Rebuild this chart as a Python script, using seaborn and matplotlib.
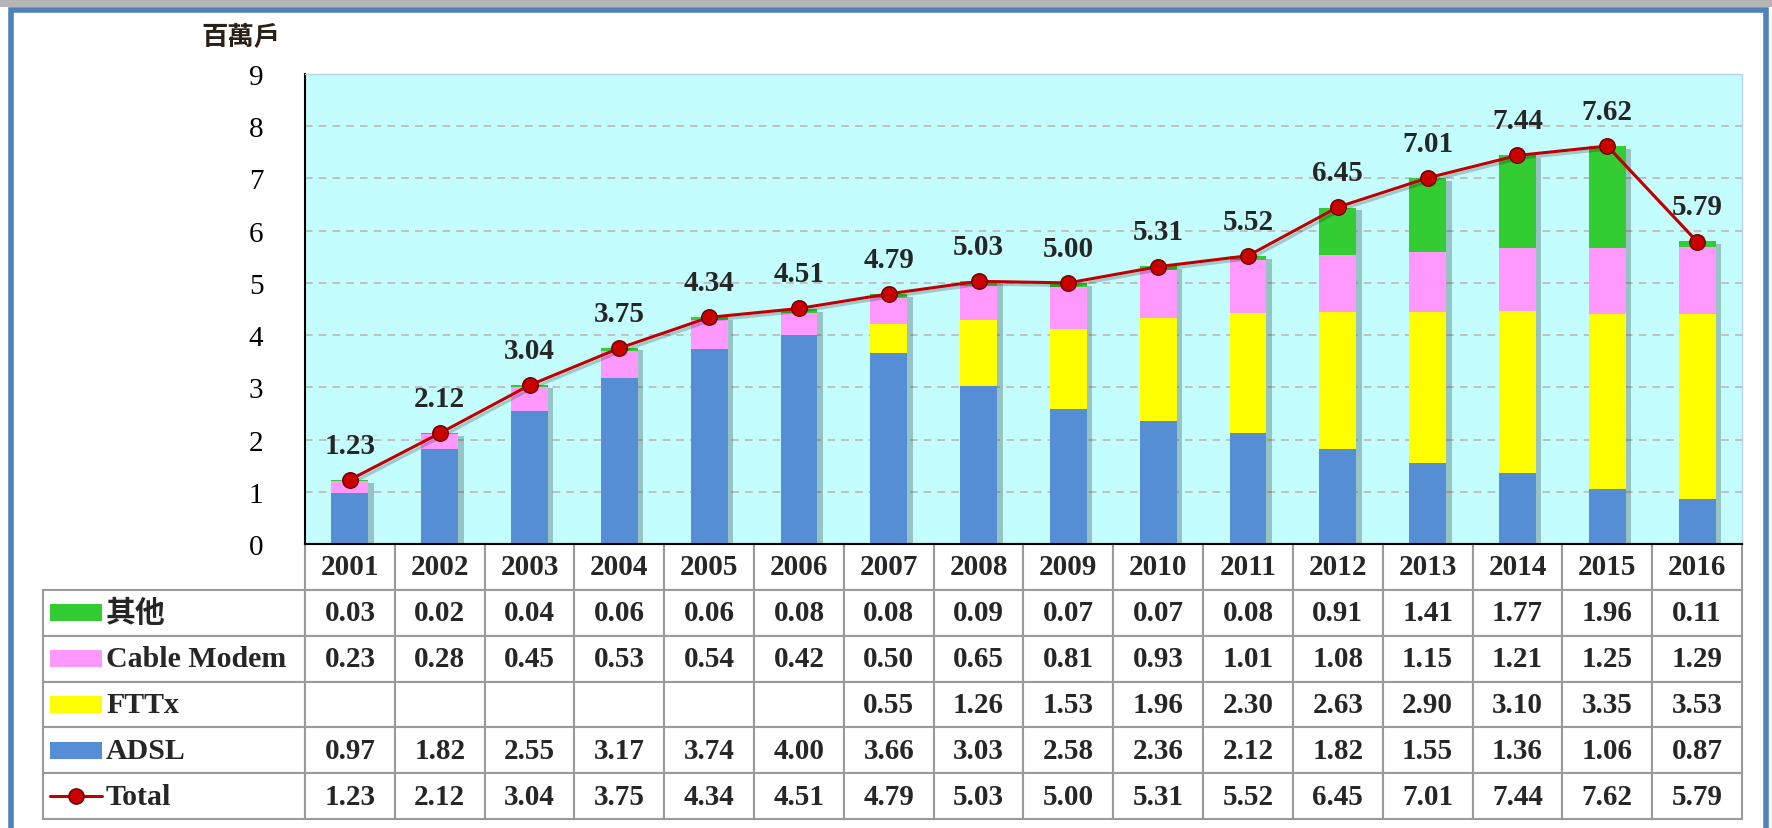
import numpy as np
import pandas as pd
import seaborn as sns
import matplotlib.pyplot as plt
import matplotlib.patheffects as pe
from matplotlib.patches import Rectangle
from matplotlib.lines import Line2D

# data (millions of households)
years = ['2001', '2002', '2003', '2004', '2005', '2006', '2007', '2008',
         '2009', '2010', '2011', '2012', '2013', '2014', '2015', '2016']
other = [0.03, 0.02, 0.04, 0.06, 0.06, 0.08, 0.08, 0.09, 0.07, 0.07, 0.08, 0.91, 1.41, 1.77, 1.96, 0.11]
cable = [0.23, 0.28, 0.45, 0.53, 0.54, 0.42, 0.50, 0.65, 0.81, 0.93, 1.01, 1.08, 1.15, 1.21, 1.25, 1.29]
fttx = [None, None, None, None, None, None, 0.55, 1.26, 1.53, 1.96, 2.30, 2.63, 2.90, 3.10, 3.35, 3.53]
adsl = [0.97, 1.82, 2.55, 3.17, 3.74, 4.00, 3.66, 3.03, 2.58, 2.36, 2.12, 1.82, 1.55, 1.36, 1.06, 0.87]
total = [1.23, 2.12, 3.04, 3.75, 4.34, 4.51, 4.79, 5.03, 5.00, 5.31, 5.52, 6.45, 7.01, 7.44, 7.62, 5.79]

row_names = ['其他', 'Cable Modem', 'FTTx', 'ADSL', 'Total']
colors = {'其他': '#33cc33', 'Cable Modem': '#ff99ff', 'FTTx': '#ffff00', 'ADSL': '#558ed5'}

df = pd.DataFrame({'year': years, 'other': other, 'cable': cable,
                   'fttx': fttx, 'adsl': adsl, 'total': total})
df['fttx'] = df['fttx'].astype(float)
f0 = df['fttx'].fillna(0)
# cumulative heights, drawn from tallest to shortest
df['c_adsl'] = df['adsl']
df['c_fttx'] = df['adsl'] + f0
df['c_cable'] = df['c_fttx'] + df['cable']
df['c_other'] = df['c_cable'] + df['other']

sns.set_style('white')
plt.rcParams['font.family'] = ['Liberation Serif', 'Noto Sans CJK TC']

W, H = 1772, 829
fig = plt.figure(figsize=(W / 100, H / 100), dpi=100)
ax = fig.add_axes([305 / W, 1 - 545 / H, (1742 - 305) / W, (545 - 75) / H])
ax.set_facecolor('#c4fdfd')

shadow = [pe.SimplePatchShadow(offset=(4, -2), shadow_rgbFace='#203030', alpha=0.28), pe.Normal()]
layers = [('c_other', '其他'), ('c_cable', 'Cable Modem'), ('c_fttx', 'FTTx'), ('c_adsl', 'ADSL')]
for col, name in layers:
    sns.barplot(data=df, x='year', y=col, color=colors[name], saturation=1,
                width=0.41, linewidth=0, ax=ax, zorder=2)
for k, bar in enumerate(ax.patches):
    if k < len(years):
        bar.set_path_effects(shadow)

xpos = np.arange(len(years))
sns.lineplot(x=xpos, y=df['total'], color='#c00000', linewidth=2.2, ax=ax, zorder=4,
             path_effects=[pe.SimpleLineShadow(offset=(2, -2), alpha=0.2), pe.Normal()])
ax.scatter(xpos, total, s=125, color='#c80000', edgecolor='#6a0000', linewidth=1, zorder=5)
for x, v in zip(xpos, total):
    ax.annotate(f'{v:.2f}', (x, v), xytext=(0, 25), textcoords='offset points',
                ha='center', va='center', fontsize=21, fontweight='bold', zorder=6)

ax.set_xlim(-0.5, len(years) - 0.5)
ax.set_ylim(0, 9)
ax.set_yticks(range(0, 10))
ax.set_xticks([])
ax.set_xlabel('')
ax.set_ylabel('')
ax.grid(axis='y', color='#bfb0b0', linestyle=(0, (5, 4)), linewidth=1.1, zorder=1)
ax.set_axisbelow(True)
ax.tick_params(axis='y', direction='in', length=9, width=1.5, pad=30,
               labelsize=21, colors='black')
for s in ['left', 'bottom']:
    ax.spines[s].set_color('black')
    ax.spines[s].set_linewidth(1.5)
for s in ['top', 'right']:
    ax.spines[s].set_color('#b8d4f0')
    ax.spines[s].set_linewidth(1)

# data table under the axis
def fmt(v):
    return '' if v is None or pd.isna(v) else f'{v:.2f}'

cell_text = [[''] + years]
for name, vals in zip(row_names, [other, cable, fttx, adsl, total]):
    cell_text.append([''] + [fmt(v) for v in vals])

left_px = 43
tw = 1742 - left_px
colw = [262 / tw] + [(1437 / 16) / tw] * 16
tab = ax.table(cellText=cell_text, colWidths=colw, cellLoc='center',
               bbox=[(left_px - 305) / 1437, -(820 - 545) / 470, tw / 1437, (820 - 545) / 470])
tab.auto_set_font_size(False)
for (r, c), cell in tab.get_celld().items():
    cell.set_edgecolor('#9a9a9a')
    cell.set_linewidth(1.5)
    cell.set_facecolor('white')
    cell.get_text().set_fontsize(21)
    cell.get_text().set_fontweight('bold')
    if r == 0 and c == 0:
        cell.visible_edges = ''
        cell.set_facecolor('none')

# legend keys inside the label column
row_h = (820 - 545) / 6
for i, name in enumerate(row_names):
    yc = 545 + row_h * (i + 1.5)
    ya = (545 - yc) / 470
    x0 = (50 - 305) / 1437
    x1 = (102 - 305) / 1437
    if name == 'Total':
        ax.add_line(Line2D([x0, x1], [ya, ya], color='#c00000', linewidth=2.2,
                           transform=ax.transAxes, clip_on=False))
        ax.add_line(Line2D([(x0 + x1) / 2], [ya], marker='o', markersize=11,
                           markerfacecolor='#c80000', markeredgecolor='#6a0000',
                           transform=ax.transAxes, clip_on=False))
    else:
        hh = 17 / 470
        ax.add_patch(Rectangle((x0, ya - hh / 2), x1 - x0, hh, facecolor=colors[name],
                               edgecolor='none', transform=ax.transAxes, clip_on=False))
    ax.text((106 - 305) / 1437, ya, name, transform=ax.transAxes, ha='left', va='center',
            fontsize=21.5, fontweight='bold')

fig.text(241 / W, 1 - 37 / H, '百萬戶', ha='center', va='center', fontsize=19,
         fontweight='bold', color='#2b2018', family=['Noto Sans CJK TC'])

# outer frame
fig.patches.append(Rectangle((0, 1 - 8 / H), 1, 8 / H, transform=fig.transFigure,
                             facecolor='#b5b5b5', edgecolor='none', zorder=0))
fig.patches.append(Rectangle((11 / W, -0.05), (1766 - 11) / W, 1 - 11 / H + 0.05,
                             transform=fig.transFigure, facecolor='none',
                             edgecolor='#4f81bd', linewidth=4, zorder=10))

fig.savefig('out.png', dpi=100, facecolor='white')
